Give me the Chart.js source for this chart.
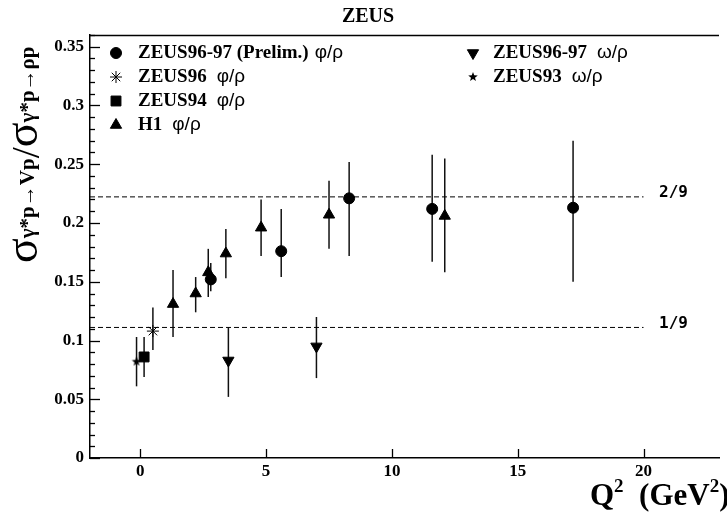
<!DOCTYPE html>
<html>
<head>
<meta charset="utf-8">
<script src="https://cdn.jsdelivr.net/npm/chart.js@4.4.1/dist/chart.umd.min.js"></script>
<style>
  html, body { margin: 0; padding: 0; background: #fff; }
</style>
</head>
<body>
<canvas id="mycanvas" width="727" height="513"></canvas>
<script>
// ZEUS96-97 (Prelim.) phi/rho  (circles)
var zeusPhiQ2  = [2.8, 5.6, 8.3, 11.6, 17.2];
var zeusPhiVal = [0.152, 0.176, 0.221, 0.212, 0.213];
var zeusPhiHi  = [0.166, 0.212, 0.252, 0.258, 0.270];
var zeusPhiLo  = [0.142, 0.154, 0.172, 0.167, 0.150];

// ZEUS96 phi/rho
var zeus96Q2  = [0.5];
var zeus96Val = [0.108];
var zeus96Hi  = [0.128];
var zeus96Lo  = [0.092];

// ZEUS94 phi/rho
var zeus94Q2  = [0.15];
var zeus94Val = [0.086];
var zeus94Hi  = [0.103];
var zeus94Lo  = [0.069];

// H1 phi/rho
var h1Q2  = [1.3, 2.2, 2.7, 3.4, 4.8, 7.5, 12.1];
var h1Val = [0.131, 0.140, 0.158, 0.174, 0.196, 0.207, 0.206];
var h1Hi  = [0.160, 0.154, 0.178, 0.195, 0.220, 0.236, 0.255];
var h1Lo  = [0.103, 0.124, 0.137, 0.153, 0.172, 0.178, 0.158];

// ZEUS96-97 omega/rho
var omegaQ2  = [3.5, 7.0];
var omegaVal = [0.083, 0.095];
var omegaHi  = [0.111, 0.120];
var omegaLo  = [0.052, 0.068];

// ZEUS93 omega/rho
var zeus93Q2  = [-0.15];
var zeus93Val = [0.082];
var zeus93Hi  = [0.103];
var zeus93Lo  = [0.061];

var refLines  = [2/9, 1/9];
var refLabels = ['2/9', '1/9'];
var refLineEnd = 20;

var xTicks = [0, 5, 10, 15, 20];
var yTicks = [0, 0.05, 0.1, 0.15, 0.2, 0.25, 0.3, 0.35];
var yMinorStep = 0.01;

var legendNames  = ['ZEUS96-97 (Prelim.)', 'ZEUS96', 'ZEUS94', 'H1', 'ZEUS96-97', 'ZEUS93'];
var legendRatios = ['\u03c6/\u03c1', '\u03c6/\u03c1', '\u03c6/\u03c1', '\u03c6/\u03c1', '\u03c9/\u03c1', '\u03c9/\u03c1'];

var serif = '"Liberation Serif", "Times New Roman", serif';

function pts(q, v) {
  var out = [];
  for (var i = 0; i < q.length; i++) out.push({x: q[i], y: v[i]});
  return out;
}

function starCanvas(r) {
  var c = document.createElement('canvas');
  c.width = c.height = 2 * r + 2;
  var g = c.getContext('2d');
  g.fillStyle = '#000';
  g.beginPath();
  for (var k = 0; k < 10; k++) {
    var rad = k % 2 ? r * 0.42 : r;
    var ang = -Math.PI / 2 + k * Math.PI / 5;
    g.lineTo(c.width / 2 + rad * Math.cos(ang), c.height / 2 + rad * Math.sin(ang));
  }
  g.closePath();
  g.fill();
  return c;
}
var star5 = starCanvas(5);

function series(name, ratio, q, v, hi, lo, style, radius, rotation) {
  return {
    label: name + ' ' + ratio,
    legendName: name,
    legendRatio: ratio,
    data: pts(q, v),
    errHi: hi,
    errLo: lo,
    pointStyle: style,
    pointRadius: radius,
    pointRotation: rotation || 0,
    backgroundColor: '#000',
    borderColor: '#000',
    borderWidth: 1,
    showLine: false
  };
}

var datasets = [
  series(legendNames[0], legendRatios[0], zeusPhiQ2, zeusPhiVal, zeusPhiHi, zeusPhiLo, 'circle', 5.5),
  series(legendNames[1], legendRatios[1], zeus96Q2, zeus96Val, zeus96Hi, zeus96Lo, 'star', 6),
  series(legendNames[2], legendRatios[2], zeus94Q2, zeus94Val, zeus94Hi, zeus94Lo, 'rect', 7),
  series(legendNames[3], legendRatios[3], h1Q2, h1Val, h1Hi, h1Lo, 'triangle', 6.5),
  series(legendNames[4], legendRatios[4], omegaQ2, omegaVal, omegaHi, omegaLo, 'triangle', 6.5, 180),
  series(legendNames[5], legendRatios[5], zeus93Q2, zeus93Val, zeus93Hi, zeus93Lo, star5, 5)
];

for (var r = 0; r < refLines.length; r++) {
  datasets.push({
    label: refLabels[r],
    data: [{x: -2, y: refLines[r]}, {x: refLineEnd, y: refLines[r]}],
    showLine: true,
    borderColor: '#000',
    borderWidth: 1,
    borderDash: [5, 3],
    pointRadius: 0,
    refLabel: refLabels[r]
  });
}

function marker(ctx, ds, x, y) {
  ctx.fillStyle = '#000';
  ctx.strokeStyle = '#000';
  ctx.lineWidth = 1;
  if (Chart.helpers && Chart.helpers.drawPoint) {
    Chart.helpers.drawPoint(ctx, {
      pointStyle: ds.pointStyle, radius: ds.pointRadius,
      rotation: ds.pointRotation, borderWidth: 1
    }, x, y);
  }
}

var decor = {
  id: 'decor',
  beforeDatasetsDraw: function(chart) {
    var ctx = chart.ctx, xs = chart.scales.x, ys = chart.scales.y;
    ctx.save();
    ctx.strokeStyle = '#111';
    ctx.lineWidth = 1.5;
    chart.data.datasets.forEach(function(ds) {
      if (!ds.errHi) return;
      ds.data.forEach(function(p, i) {
        var px = xs.getPixelForValue(p.x);
        ctx.beginPath();
        ctx.moveTo(px, ys.getPixelForValue(ds.errLo[i]));
        ctx.lineTo(px, ys.getPixelForValue(ds.errHi[i]));
        ctx.stroke();
      });
    });
    ctx.restore();
  },
  afterDraw: function(chart) {
    var ctx = chart.ctx, xs = chart.scales.x, ys = chart.scales.y, a = chart.chartArea;
    ctx.save();
    ctx.strokeStyle = '#000';
    ctx.setLineDash([]);
    ctx.lineWidth = 1.3;

    // top frame
    ctx.beginPath();
    ctx.moveTo(a.left, a.top + 0.5);
    ctx.lineTo(a.right, a.top + 0.5);
    ctx.stroke();

    // inward tick marks
    var n = Math.round(ys.max / yMinorStep);
    for (var k = 0; k <= n; k++) {
      var v = k * yMinorStep;
      var py = Math.round(ys.getPixelForValue(v)) + 0.5;
      var len = (k % 5 === 0) ? 10 : 5;
      ctx.beginPath();
      ctx.moveTo(a.left, py);
      ctx.lineTo(a.left + len, py);
      ctx.stroke();
    }
    xTicks.forEach(function(t) {
      var px = Math.round(xs.getPixelForValue(t)) + 0.5;
      ctx.beginPath();
      ctx.moveTo(px, a.bottom);
      ctx.lineTo(px, a.bottom - 9);
      ctx.stroke();
    });

    // reference line labels
    ctx.fillStyle = '#000';
    ctx.font = 'bold 16px "DejaVu Sans Mono", monospace';
    ctx.textAlign = 'left';
    ctx.textBaseline = 'middle';
    chart.data.datasets.forEach(function(ds) {
      if (ds.refLabel) ctx.fillText(ds.refLabel, 659, ys.getPixelForValue(ds.data[0].y) - 4);
    });

    // title
    ctx.font = 'bold 20px ' + serif;
    ctx.textAlign = 'center';
    ctx.fillText('ZEUS', 368, 17);

    // legend
    ctx.textAlign = 'left';
    var shown = chart.data.datasets.filter(function(ds) { return ds.legendName; });
    shown.forEach(function(ds, i) {
      var col = i < 4 ? 0 : 1;
      var row = col ? i - 4 : i;
      var y = 53 + row * 24;
      var mx = col ? 473 : 116;
      var tx = col ? 493 : 138;
      marker(ctx, ds, mx, y);
      ctx.fillStyle = '#000';
      ctx.font = 'bold 19px ' + serif;
      ctx.fillText(ds.legendName, tx, y);
      var w = ctx.measureText(ds.legendName).width;
      ctx.font = '19px "Liberation Sans", sans-serif';
      ctx.fillText(ds.legendRatio, tx + w + (i === 0 ? 6 : 10), y);
    });

    // y axis title
    ctx.save();
    ctx.translate(0, 263);
    ctx.rotate(-Math.PI / 2);
    ctx.textBaseline = 'alphabetic';
    var cx = 0;
    function piece(text, font, base) {
      ctx.font = font;
      ctx.fillText(text, cx, base);
      cx += ctx.measureText(text).width;
    }
    piece('\u03c3', '46px ' + serif, 37);
    piece('\u03b3*p\u2192Vp', 'bold 21px ' + serif, 34);
    piece('/', '40px ' + serif, 39);
    piece('\u03c3', '46px ' + serif, 37);
    piece('\u03b3*p\u2192\u03c1p', 'bold 21px ' + serif, 34);
    ctx.restore();

    // x axis title
    ctx.textBaseline = 'alphabetic';
    var qx = 590, qb = 505;
    function xp(text, font, dy) {
      ctx.font = font;
      ctx.fillText(text, qx, qb + dy);
      qx += ctx.measureText(text).width;
    }
    xp('Q', 'bold 31px ' + serif, 0);
    xp('2', 'bold 19px ' + serif, -13);
    xp('  (GeV', 'bold 31px ' + serif, 0);
    xp('2', 'bold 19px ' + serif, -13);
    xp(')', 'bold 31px ' + serif, 0);

    ctx.restore();
  }
};

var ctx = document.getElementById('mycanvas');
var chart = new Chart(ctx, {
  type: 'scatter',
  data: { datasets: datasets },
  options: {
    responsive: false,
    animation: false,
    devicePixelRatio: 1,
    events: [],
    layout: { padding: { top: 35, left: 0, right: 0, bottom: 0 } },
    plugins: {
      legend: { display: false },
      title: { display: false },
      tooltip: { enabled: false }
    },
    scales: {
      x: {
        type: 'linear',
        min: -2,
        max: 23,
        afterBuildTicks: function(scale) {
          scale.ticks = xTicks.map(function(v) { return {value: v}; });
        },
        afterFit: function(scale) { scale.height = 55; },
        grid: { display: false, drawTicks: false },
        border: { display: true, color: '#000', width: 1.5 },
        ticks: {
          padding: 3,
          color: '#000',
          font: { family: serif, size: 17, weight: 'bold' }
        }
      },
      y: {
        type: 'linear',
        min: 0,
        max: 0.36,
        afterBuildTicks: function(scale) {
          scale.ticks = yTicks.map(function(v) { return {value: v}; });
        },
        afterFit: function(scale) { scale.width = 90; },
        grid: { display: false, drawTicks: false },
        border: { display: true, color: '#000', width: 1.5 },
        ticks: {
          padding: 6,
          color: '#000',
          font: { family: serif, size: 17, weight: 'bold' },
          callback: function(v) { return String(+v.toFixed(2)); }
        }
      }
    }
  },
  plugins: [decor]
});
</script>
</body>
</html>
